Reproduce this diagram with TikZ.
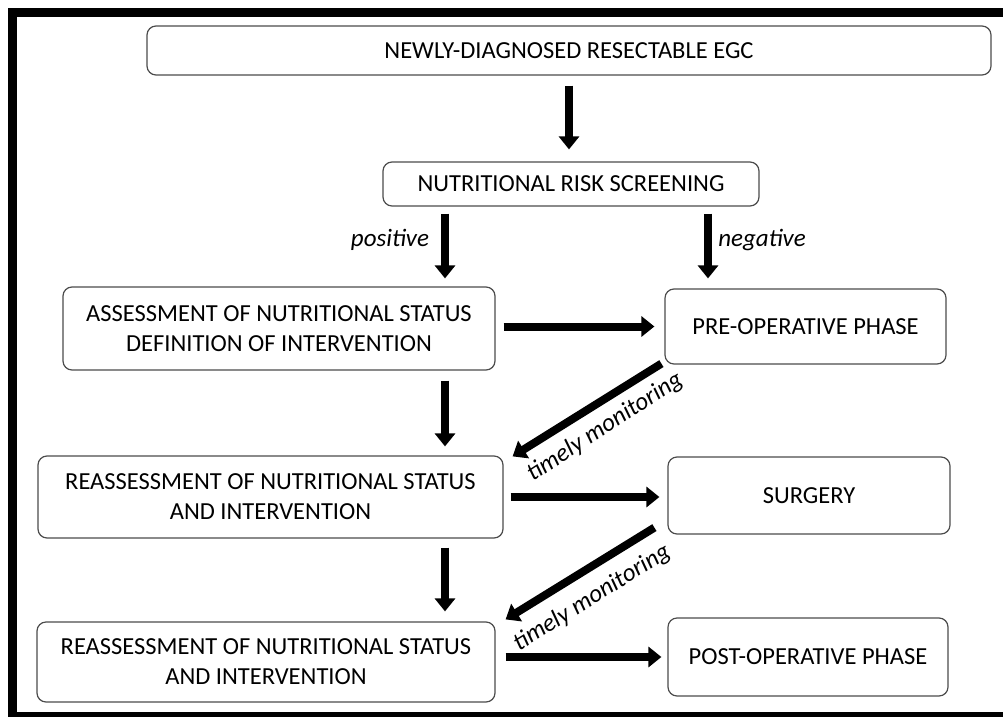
\documentclass[tikz,border=0pt]{standalone}
\usepackage{fontspec}
\setmainfont{Carlito}
\usetikzlibrary{arrows.meta}
\begin{document}
\begin{tikzpicture}[x=1pt,y=-1pt,
 box/.style={draw=black!70, line width=1.2pt, rounded corners=9pt, fill=white, align=center, font=\fontsize{24.5}{30}\selectfont, inner sep=0pt},
 bigarrow/.style={line width=8pt, -{Triangle[width=20pt,length=13pt]}, draw=black},
 lab/.style={font=\fontsize{25}{28}\selectfont\itshape},
 frameband/.style={fill=black}]
\useasboundingbox (0,0) rectangle (1003,717);
% frame
\fill[frameband] (8,8) rectangle (1003,17);
\fill[frameband] (8,8) rectangle (17,717);
\fill[frameband] (8,712) rectangle (1003,717);
% boxes
\node[box, minimum width=844pt, minimum height=49pt] (b1) at (569,50.5) {NEWLY-DIAGNOSED RESECTABLE EGC};
\node[box, minimum width=376pt, minimum height=44pt] (b2) at (571,184) {NUTRITIONAL RISK SCREENING};
\node[box, minimum width=432pt, minimum height=83pt] (b3) at (279,328.5) {ASSESSMENT OF NUTRITIONAL STATUS\\DEFINITION OF INTERVENTION};
\node[box, minimum width=281pt, minimum height=75pt] (b4) at (805.5,326.5) {PRE-OPERATIVE PHASE};
\node[box, minimum width=465pt, minimum height=82pt] (b5) at (270.5,497) {REASSESSMENT OF NUTRITIONAL STATUS\\AND INTERVENTION};
\node[box, minimum width=282pt, minimum height=77pt] (b6) at (809,495.5) {SURGERY};
\node[box, minimum width=458pt, minimum height=80pt] (b7) at (266,662) {REASSESSMENT OF NUTRITIONAL STATUS\\AND INTERVENTION};
\node[box, minimum width=280pt, minimum height=78pt] (b8) at (808,657) {POST-OPERATIVE PHASE};
% arrow columns
\coordinate (colL) at (445,0);
\coordinate (colR) at (708,0);
% arrows
\draw[bigarrow, shorten <=10pt, shorten >=12pt] (b1.south) -- (b1.south |- b2.north);
\draw[bigarrow, shorten <=7pt, shorten >=8pt] (b2.south -| colL) -- (b3.north -| colL);
\draw[bigarrow, shorten <=7pt, shorten >=10pt] (b2.south -| colR) -- (b4.north -| colR);
\node[lab] (pos) at (390,240) {positive};
\node[lab] (neg) at (762,240) {negative};
\draw[bigarrow, shorten <=8pt, shorten >=10pt] (b3.east |- b4.west) -- (b4.west);
\draw[bigarrow, shorten <=10pt, shorten >=9pt] (b3.south -| colL) -- (b5.north -| colL);
\draw[bigarrow] ([xshift=-3pt,yshift=1pt]b4.south west) -- ([xshift=9pt,yshift=-1pt]b5.north east);
\node[lab, rotate=33] (tm1) at (605,427) {timely monitoring};
\draw[bigarrow, shorten <=7pt, shorten >=8pt] (b5.east) -- (b5.east -| b6.west);
\draw[bigarrow, shorten <=9pt, shorten >=10pt] (b5.south -| colL) -- (b7.north -| colL);
\draw[bigarrow] ([xshift=-13pt,yshift=7pt]b6.south west) -- ([xshift=10pt,yshift=2pt]b7.north east);
\node[lab, rotate=32] (tm2) at (592,598) {timely monitoring};
\draw[bigarrow, shorten <=10pt, shorten >=6pt] (b7.east |- b8.west) -- (b8.west);
\end{tikzpicture}
\end{document}
